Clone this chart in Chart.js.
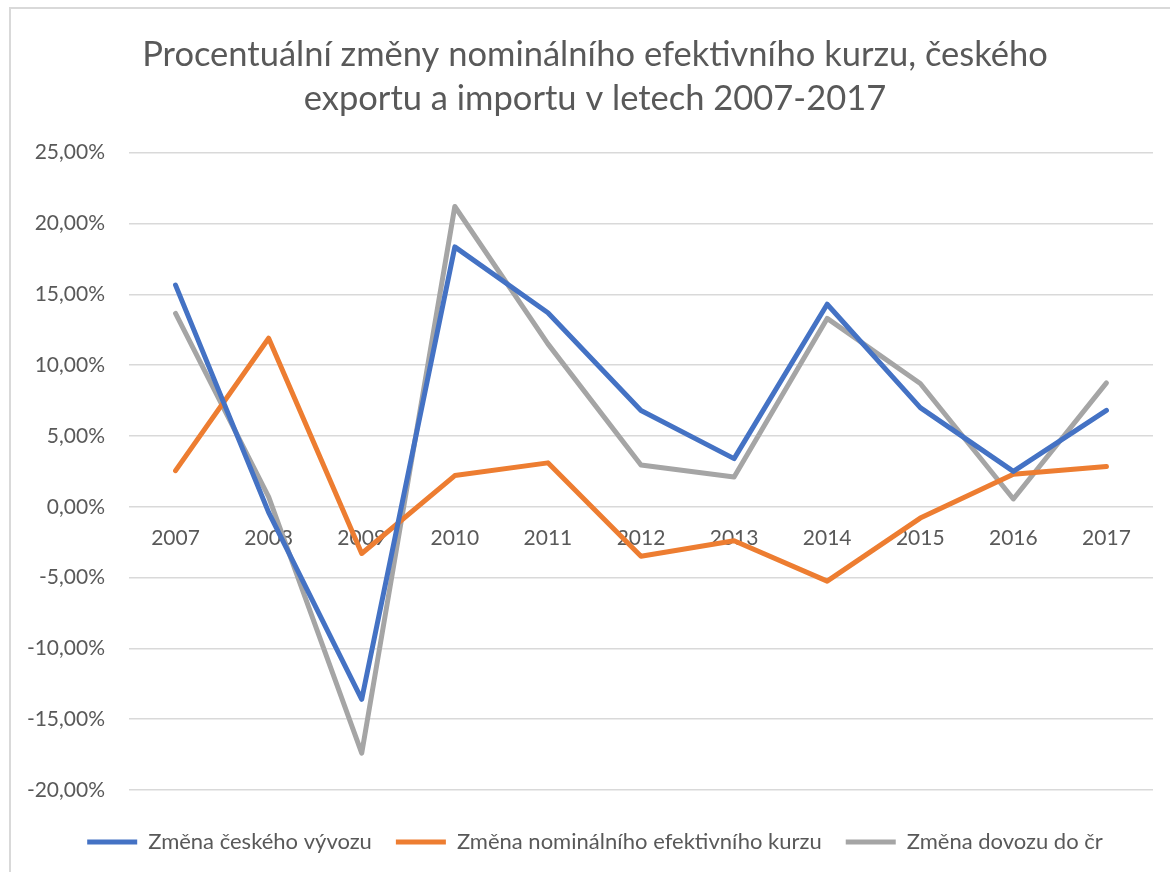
<!DOCTYPE html>
<html lang="cs">
<head>
    <meta charset="UTF-8">
    <title>Procentuální změny</title>
    <script src="https://cdn.jsdelivr.net/npm/chart.js"></script>
    <style>
        body { margin: 0; background: #fff; }
    </style>
</head>
<body>
    <canvas id="chart" width="1170" height="872"></canvas>
    <script>
        const years = ['2007', '2008', '2009', '2010', '2011', '2012', '2013', '2014', '2015', '2016', '2017'];
        const vyvoz = [15.65, -0.4, -13.6, 18.35, 13.7, 6.8, 3.4, 14.3, 7.0, 2.5, 6.8];
        const kurz = [2.55, 11.9, -3.3, 2.2, 3.1, -3.5, -2.4, -5.25, -0.8, 2.3, 2.85];
        const dovoz = [13.65, 0.7, -17.4, 21.2, 11.5, 2.95, 2.1, 13.3, 8.7, 0.55, 8.75];
        const seriesNames = ['Změna českého vývozu', 'Změna nominálního efektivního kurzu', 'Změna dovozu do čr'];
        const seriesColors = ['#4472C4', '#ED7D31', '#A5A5A5'];

        const textColor = '#595959';
        const fontFamily = 'Lato, "Open Sans", sans-serif';

        // tenký rámeček grafu jako v Excelu
        const frame = {
            id: 'frame',
            beforeDraw(chart) {
                const ctx = chart.ctx;
                ctx.save();
                ctx.fillStyle = '#fff';
                ctx.fillRect(0, 0, chart.width, chart.height);
                ctx.strokeStyle = '#d9d9d9';
                ctx.lineWidth = 2;
                ctx.beginPath();
                ctx.moveTo(10, chart.height);
                ctx.lineTo(10, 8);
                ctx.lineTo(chart.width, 8);
                ctx.stroke();
                ctx.restore();
            }
        };

        const datasets = [vyvoz, kurz, dovoz].map((values, i) => ({
            label: seriesNames[i],
            data: values,
            borderColor: seriesColors[i],
            backgroundColor: seriesColors[i],
            borderWidth: 5,
            borderCapStyle: 'round',
            borderJoinStyle: 'round',
            pointRadius: 0,
            pointStyle: 'line',
            tension: 0
        }));

        new Chart(document.getElementById('chart'), {
            type: 'line',
            data: { labels: years, datasets: datasets },
            plugins: [frame],
            options: {
                responsive: false,
                animation: false,
                layout: { padding: { left: 20, right: 0, top: 0, bottom: 9 } },
                plugins: {
                    title: {
                        display: true,
                        text: ['Procentuální změny nominálního efektivního kurzu, českého', 'exportu a importu v letech 2007-2017'],
                        color: textColor,
                        font: { family: fontFamily, size: 34.5, weight: 'normal', lineHeight: 1.3 },
                        padding: { top: 32, bottom: 31 }
                    },
                    legend: {
                        position: 'bottom',
                        labels: {
                            color: textColor,
                            font: { family: fontFamily, size: 22 },
                            usePointStyle: true,
                            pointStyleWidth: 50,
                            padding: 24
                        }
                    },
                    tooltip: { enabled: false }
                },
                scales: {
                    x: {
                        position: { y: 0 },
                        offset: true,
                        grid: { display: false, drawTicks: false },
                        border: { display: false },
                        ticks: {
                            color: textColor,
                            font: { family: fontFamily, size: 21 },
                            padding: 19,
                            maxRotation: 0
                        }
                    },
                    // prázdné osy jen drží mezery (nad legendou a vpravo)
                    xb: {
                        type: 'category',
                        position: 'bottom',
                        grid: { display: false, drawTicks: false },
                        border: { display: false },
                        ticks: { display: false },
                        afterFit(scale) { scale.height = 17; }
                    },
                    yr: {
                        type: 'linear',
                        position: 'right',
                        grid: { display: false, drawTicks: false },
                        border: { display: false },
                        ticks: { display: false },
                        afterFit(scale) { scale.width = 17; }
                    },
                    y: {
                        min: -20,
                        max: 25,
                        afterFit(scale) { scale.width = 109; },
                        grid: { color: '#d9d9d9', lineWidth: 1.5, drawTicks: false },
                        border: { display: false },
                        ticks: {
                            stepSize: 5,
                            color: textColor,
                            font: { family: fontFamily, size: 21 },
                            padding: 24,
                            callback: v => v.toFixed(2).replace('.', ',') + '%'
                        }
                    }
                }
            }
        });
    </script>
</body>
</html>
